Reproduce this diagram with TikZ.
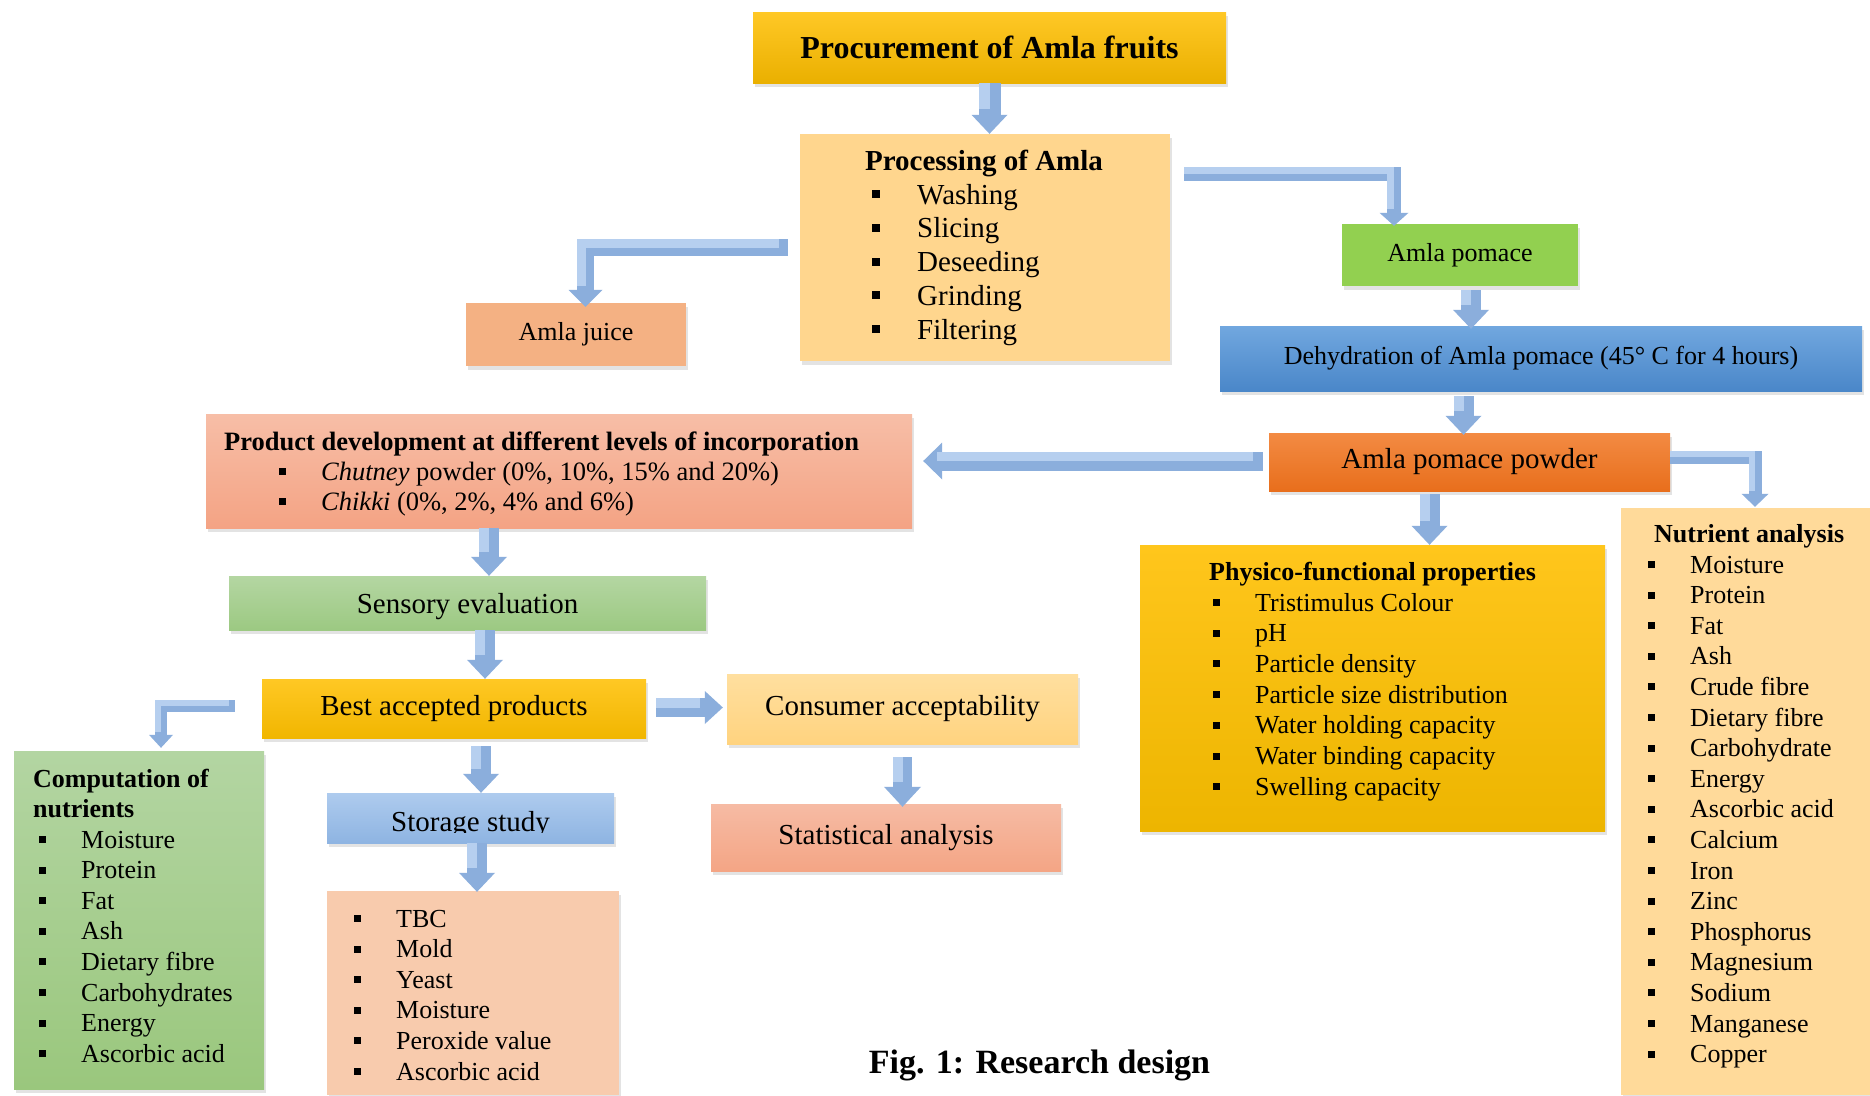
\documentclass[tikz,border=0pt]{standalone}
\usepackage{fontspec}
\setmainfont{Liberation Serif}
\usetikzlibrary{arrows.meta,shadows,calc}
\newcommand\fs[1]{\fontsize{#1pt}{#1pt}\selectfont}
\newcommand\bula{\makebox[45pt][l]{\rule[6pt]{8pt}{8pt}}}
\newcommand\bulb{\makebox[42pt][l]{\rule[5pt]{7pt}{7pt}}}
\definecolor{goldA}{HTML}{FFC826}
\definecolor{goldB}{HTML}{EAB000}
\definecolor{procfill}{HTML}{FFD68E}
\definecolor{juicec}{HTML}{F4B183}
\definecolor{pomacec}{HTML}{92D050}
\definecolor{dehydA}{HTML}{71A7DF}
\definecolor{dehydB}{HTML}{4A87C9}
\definecolor{powderA}{HTML}{F38B43}
\definecolor{powderB}{HTML}{E86E1C}
\definecolor{prodA}{HTML}{F7BEA7}
\definecolor{prodB}{HTML}{F4A384}
\definecolor{sensA}{HTML}{B4D6A2}
\definecolor{sensB}{HTML}{9CC982}
\definecolor{bestA}{HTML}{FFC824}
\definecolor{bestB}{HTML}{F1B600}
\definecolor{consA}{HTML}{FFDF9F}
\definecolor{consB}{HTML}{FFD37F}
\definecolor{statA}{HTML}{F6BBA4}
\definecolor{statB}{HTML}{F4A585}
\definecolor{storA}{HTML}{AECBEE}
\definecolor{storB}{HTML}{8EB4E2}
\definecolor{listc}{HTML}{F8CBAD}
\definecolor{compA}{HTML}{B3D5A2}
\definecolor{compB}{HTML}{9AC77D}
\definecolor{physA}{HTML}{FFC61C}
\definecolor{physB}{HTML}{EDB500}
\definecolor{nutrc}{HTML}{FFDA9A}
\definecolor{ablue}{HTML}{8BAEDC}
\definecolor{ahi}{HTML}{B6CFEF}
\begin{document}
\begin{tikzpicture}[x=1pt,y=-1pt,
  bx/.style={rectangle, inner sep=0pt, drop shadow={opacity=0.22, shadow xshift=1.5pt, shadow yshift=-4pt}},
  itm/.style={anchor=base west, inner sep=0pt},
  ttl/.style={anchor=base, inner sep=0pt},
  barrow/.style n args={3}{draw=ablue, line width=#1, line join=miter,
    -{Triangle[width=#2,length=#3,line width=0pt]},
    postaction={draw=ahi, line width=0.5*#1, arrows=-, shorten >=#3, shorten <=0.25*#1,
      transform canvas={xshift=-0.25*#1, yshift=0.25*#1}}}
]
\fill[white] (0,0) rectangle (1870,1095);
\useasboundingbox (0,0) rectangle (1870,1095);

% boxes
\node[bx, minimum width=473pt, minimum height=71pt, top color=goldA, bottom color=goldB, font=\bfseries\fs{32}] (proc) at (989.5,47.5) {Procurement of Amla fruits};
\node[bx, minimum width=370pt, minimum height=227pt, fill=procfill] (processing) at (985,247.5) {};
\node[bx, minimum width=220pt, minimum height=63pt, fill=juicec, font=\fs{26}] (juice) at (576,334.5) {Amla juice};
\node[bx, minimum width=236pt, minimum height=62pt, fill=pomacec, font=\fs{26}] (pomace) at (1460,255) {Amla pomace};
\node[bx, minimum width=642pt, minimum height=65pt, top color=dehydA, bottom color=dehydB, font=\fs{26}] (dehyd) at (1541,358.5) {Dehydration of Amla pomace (45° C for 4 hours)};
\node[bx, minimum width=401pt, minimum height=58pt, top color=powderA, bottom color=powderB, font=\fs{29}] (powder) at (1469.5,462) {Amla pomace powder};
\node[bx, minimum width=706pt, minimum height=114pt, top color=prodA, bottom color=prodB] (prod) at (559,471) {};
\node[bx, minimum width=477pt, minimum height=54pt, top color=sensA, bottom color=sensB, font=\fs{29}, text depth=0pt] (sensory) at (467.5,603) {Sensory evaluation};
\node[bx, minimum width=384pt, minimum height=59pt, top color=bestA, bottom color=bestB, font=\fs{29}] (best) at (454,708.5) {Best accepted products};
\node[bx, minimum width=351pt, minimum height=70pt, top color=consA, bottom color=consB, font=\fs{29}] (consumer) at (902.5,709) {Consumer acceptability};
\node[bx, minimum width=350pt, minimum height=67pt, top color=statA, bottom color=statB, font=\fs{29}] (stat) at (886,837.5) {Statistical analysis};
\node[bx, minimum width=287pt, minimum height=50pt, top color=storA, bottom color=storB] (storage) at (470.5,818) {};
\node[bx, minimum width=292pt, minimum height=204pt, fill=listc] (storlist) at (473,993) {};
\node[bx, minimum width=250pt, minimum height=338pt, top color=compA, bottom color=compB] (comp) at (139,920) {};
\node[bx, minimum width=465pt, minimum height=286pt, top color=physA, bottom color=physB] (phys) at (1372.5,688) {};
\node[bx, minimum width=249pt, minimum height=587pt, fill=nutrc] (nutr) at (1745.5,801.5) {};

% arrows
\draw[barrow={22pt}{36pt}{19pt}] (proc.south) -- (proc.south |- processing.north);
\draw[barrow={17pt}{34pt}{17pt}] ([xshift=-12pt]processing.west) -| ([xshift=9.5pt,yshift=-4pt]juice.north);
\draw[barrow={14pt}{29pt}{13pt}] ([xshift=14pt,yshift=-40pt]processing.north east) -| ([xshift=-66pt,yshift=-2pt]pomace.north);
\draw[barrow={20pt}{36pt}{19pt}] ([xshift=11pt,yshift=-4pt]pomace.south) -- ([xshift=11pt,yshift=-3pt]pomace.south |- dehyd.north);
\draw[barrow={20pt}{36pt}{19pt}] ([xshift=-6pt,yshift=-5pt]powder.north |- dehyd.south) -- ([xshift=-6pt,yshift=-2pt]powder.north);
\draw[barrow={19pt}{37pt}{19pt}] ([xshift=-6pt,yshift=1pt]powder.west) -- ([xshift=11pt,yshift=1pt]prod.east |- powder.west);
\draw[barrow={13pt}{27pt}{13pt}] ([yshift=5pt]powder.east) -| ([xshift=9.5pt,yshift=1pt]nutr.north);
\draw[barrow={20pt}{36pt}{19pt}] ([xshift=-40pt,yshift=-3pt]powder.south) -- ([xshift=-40pt]powder.south |- phys.north);
\draw[barrow={20pt}{36pt}{19pt}] ([xshift=21.5pt]sensory.north |- prod.south) -- ([xshift=21.5pt]sensory.north);
\draw[barrow={20pt}{36pt}{19pt}] ([xshift=31pt]best.north |- sensory.south) -- ([xshift=31pt]best.north);
\draw[barrow={19pt}{33pt}{18pt}] ([xshift=10pt,yshift=1pt]best.east) -- ([xshift=-4pt,yshift=1pt]consumer.west |- best.east);
\draw[barrow={19pt}{37pt}{20pt}] ([yshift=-13pt]consumer.south) -- ([yshift=-3pt]consumer.south |- stat.north);
\draw[barrow={20pt}{36pt}{19pt}] ([xshift=27pt,yshift=-8pt]best.south) -- ([xshift=27pt]best.south |- storage.north);
\draw[barrow={20pt}{36pt}{19pt}] ([xshift=6.5pt]storage.south) -- ([xshift=6.5pt,yshift=-1pt]storage.south |- storlist.north);
\draw[barrow={12pt}{24pt}{13pt}] ([xshift=-27pt,yshift=2.5pt]best.west) -| ([xshift=22pt,yshift=3pt]comp.north);

% processing text
\node[ttl, font=\bfseries\fs{29}] (prtitle) at (984,170) {Processing of Amla};
\foreach \t [count=\i from 0] in {Washing,Slicing,Deseeding,Grinding,Filtering}
  \node[itm, font=\fs{29}] (pr\i) at (872,{204+\i*33.8}) {\bula\t};

% product development text
\node[itm, font=\bfseries\fs{26.5}] (pdtitle) at (224,450) {Product development at different levels of incorporation};
\node[itm, font=\fs{26.5}] (pd1) at (279,480) {\bulb\textit{Chutney} powder (0\%, 10\%, 15\% and 20\%)};
\node[itm, font=\fs{26.5}] (pd2) at (279,510) {\bulb\textit{Chikki} (0\%, 2\%, 4\% and 6\%)};

% storage study (descenders cut by the box)
\begin{scope}
\clip (storage.north west) rectangle ([yshift=11pt]storage.south east);
\node[ttl, font=\fs{29}] (stortext) at ([yshift=12pt]storage.south) {Storage study};
\end{scope}

\foreach \t [count=\i from 0] in {TBC,Mold,Yeast,Moisture,Peroxide value,Ascorbic acid}
  \node[itm, font=\fs{26}] (sl\i) at (354,{927+\i*30.6}) {\bulb\t};

% computation of nutrients
\node[itm, font=\bfseries\fs{26}] (ct1) at (33,787) {Computation of};
\node[itm, font=\bfseries\fs{26}] (ct2) at (33,817) {nutrients};
\foreach \t [count=\i from 0] in {Moisture,Protein,Fat,Ash,Dietary fibre,Carbohydrates,Energy,Ascorbic acid}
  \node[itm, font=\fs{26}] (cn\i) at (39,{848+\i*30.6}) {\bulb\t};

% physico-functional
\node[ttl, font=\bfseries\fs{26}] (phtitle) at (1372.5,580) {Physico-functional properties};
\foreach \t [count=\i from 0] in {Tristimulus Colour,pH,Particle density,Particle size distribution,Water holding capacity,Water binding capacity,Swelling capacity}
  \node[itm, font=\fs{26}] (ph\i) at (1213,{611+\i*30.7}) {\bulb\t};

% nutrient analysis
\node[itm, font=\bfseries\fs{26}] (nutitle) at (1654,542) {Nutrient analysis};
\foreach \t [count=\i from 0] in {Moisture,Protein,Fat,Ash,Crude fibre,Dietary fibre,Carbohydrate,Energy,Ascorbic acid,Calcium,Iron,Zinc,Phosphorus,Magnesium,Sodium,Manganese,Copper}
  \node[itm, font=\fs{26}] (nu\i) at (1648,{573+\i*30.6}) {\bulb\t};

% caption
\node[ttl, font=\bfseries\fs{34}] (caption) at (1039.5,1073) {Fig. 1: Research design};
\end{tikzpicture}
\end{document}
